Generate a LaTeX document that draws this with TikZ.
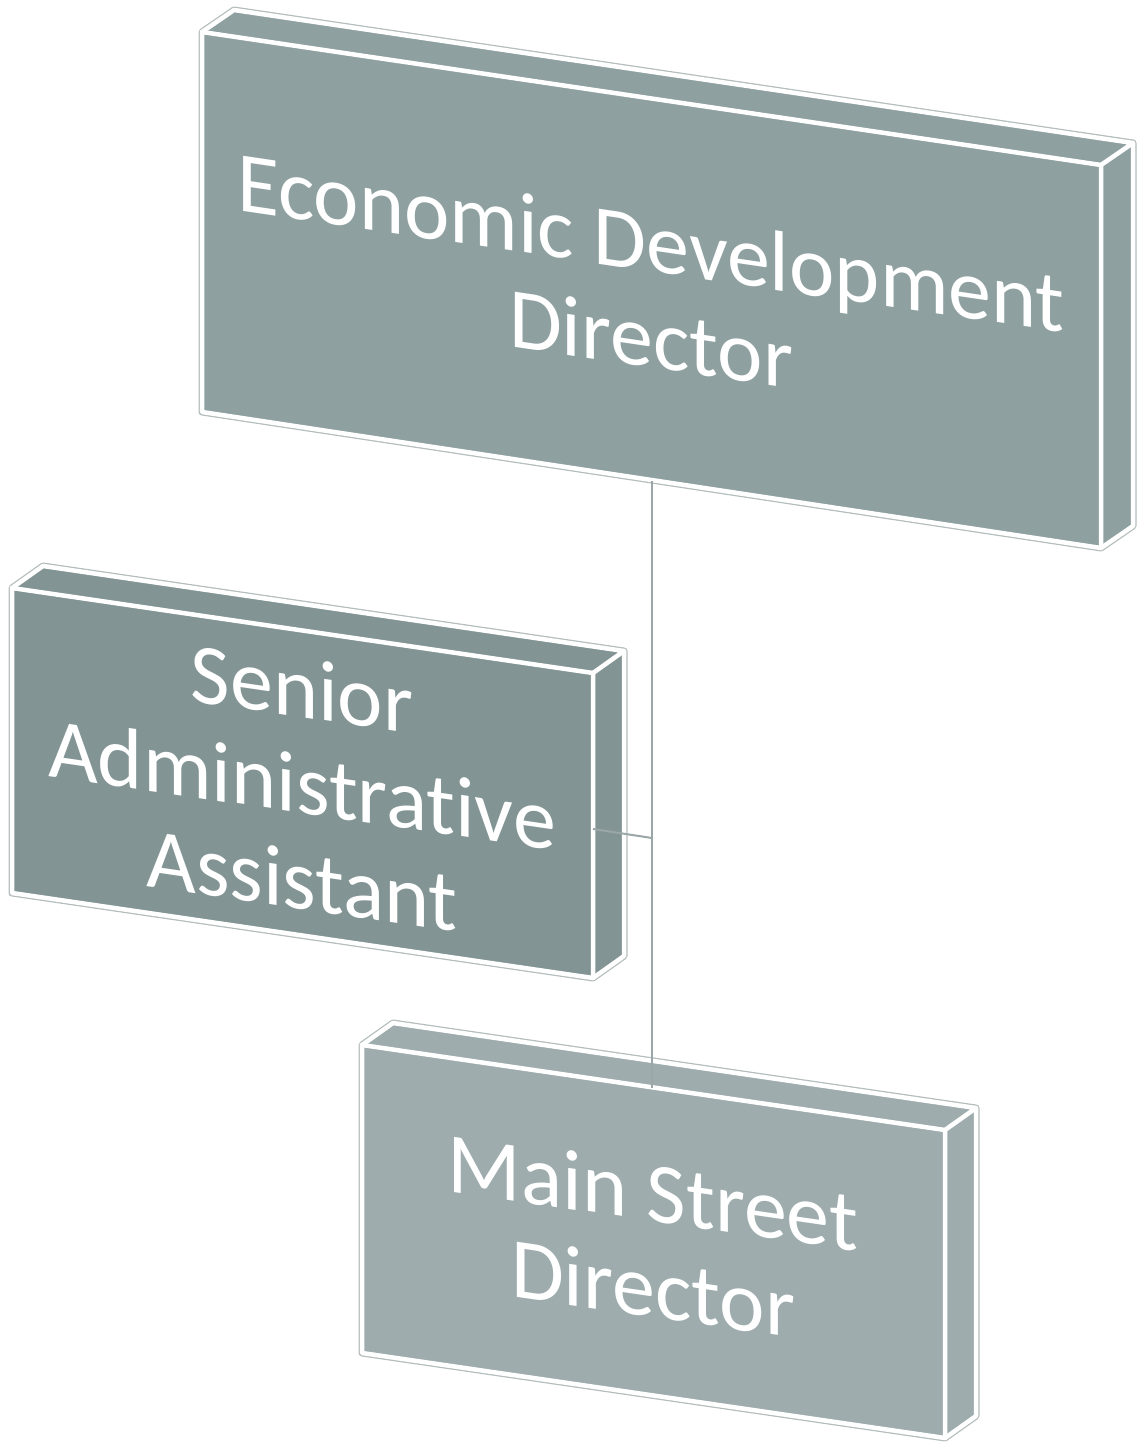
\documentclass[tikz,border=0pt]{standalone}
\usepackage{fontspec}
\setmainfont{Carlito}[Ligatures=NoCommon]
\definecolor{boxA}{HTML}{8FA0A1}
\definecolor{boxB}{HTML}{839494}
\definecolor{boxC}{HTML}{9EACAE}
\definecolor{halo}{HTML}{B4BCBC}
\definecolor{conn}{HTML}{9AA6A7}
\tikzset{
  halo line/.style={draw=halo, line width=7bp, line join=round},
  white edge/.style={draw=white, line width=4.5bp, line join=round, line cap=round},
  label text/.style={text=white, align=center, inner sep=0pt, font=\fontsize{86bp}{96bp}\selectfont, transform shape},
  connector/.style={draw=conn, line width=2bp}
}
\newcommand\threedbox[2]{%
  \draw[halo line] (#1ftl) -- (#1btl) -- (#1btr) -- (#1bbr) -- (#1fbr) -- (#1fbl) -- cycle;
  \fill[#2] (#1ftl) -- (#1btl) -- (#1btr) -- (#1bbr) -- (#1fbr) -- (#1fbl) -- cycle;
  \draw[white edge] (#1ftl) -- (#1ftr) -- (#1fbr) -- (#1fbl) -- cycle;
  \draw[white edge] (#1ftl) -- (#1btl) -- (#1btr) -- (#1ftr);
  \draw[white edge] (#1btr) -- (#1bbr) -- (#1fbr);
}
\begin{document}
\begin{tikzpicture}[x=1bp, y=-1bp]
\useasboundingbox (0,0) rectangle (1139,1443);
% Box A: Economic Development Director
\coordinate (Aftl) at (202,32);
\coordinate (Aftr) at (1101,165);
\coordinate (Afbr) at (1101,548);
\coordinate (Afbl) at (202,412);
\coordinate (Abtl) at (234,10);
\coordinate (Abtr) at (1133,143);
\coordinate (Abbr) at (1133,526);
% Box B: Senior Administrative Assistant
\coordinate (Bftl) at (12,588);
\coordinate (Bftr) at (593,673);
\coordinate (Bfbr) at (593,978);
\coordinate (Bfbl) at (12,893);
\coordinate (Bbtl) at (43,566);
\coordinate (Bbtr) at (624,651);
\coordinate (Bbbr) at (624,956);
% Box C: Main Street Director
\coordinate (Cftl) at (362,1045);
\coordinate (Cftr) at (945,1130);
\coordinate (Cfbr) at (945,1438);
\coordinate (Cfbl) at (362,1353);
\coordinate (Cbtl) at (393,1023);
\coordinate (Cbtr) at (976,1108);
\coordinate (Cbbr) at (976,1416);

\threedbox{A}{boxA}
\threedbox{B}{boxB}
\threedbox{C}{boxC}

% connectors
\coordinate (Adown) at (652,481);
\coordinate (Ctop) at (652,1088);
\coordinate (Bright) at (593,829);
\coordinate (junction) at (652,838);
\draw[connector] (Adown) -- (Ctop);
\draw[connector] (Bright) -- (junction);

% labels
\begin{scope}[shift={(651,290)}, yslant=-0.148]
  \node[label text] (tA) at (0,0) {Economic Development\\Director};
\end{scope}
\begin{scope}[shift={(302,784)}, yslant=-0.146]
  \node[label text] (tB) at (0,0) {Senior\\Administrative\\Assistant};
\end{scope}
\begin{scope}[shift={(653,1240)}, yslant=-0.146]
  \node[label text] (tC) at (0,0) {Main Street\\Director};
\end{scope}
\end{tikzpicture}
\end{document}
